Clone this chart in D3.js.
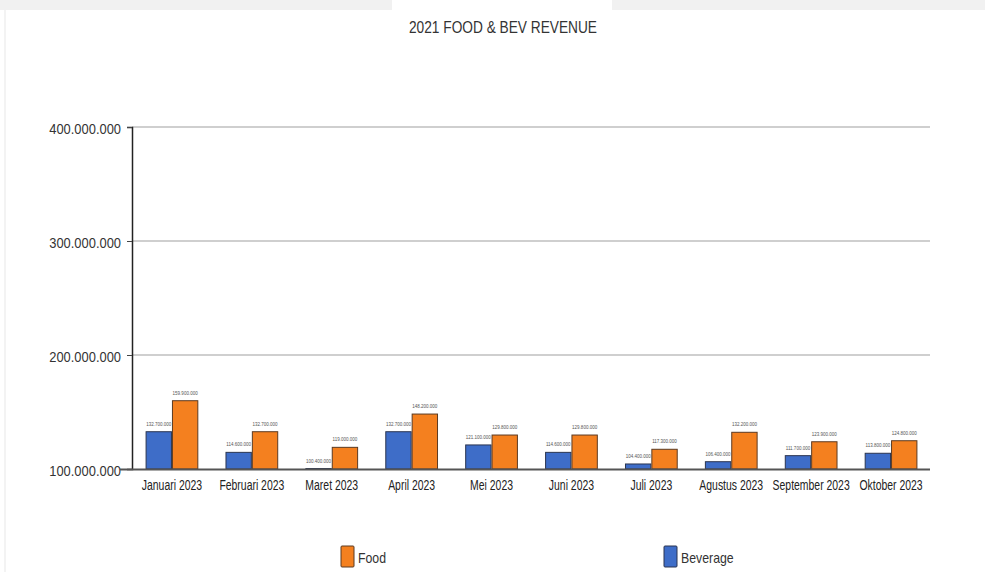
<!DOCTYPE html>
<html>
<head>
<meta charset="utf-8">
<script src="https://cdn.jsdelivr.net/npm/d3@7"></script>
<style>
  html, body { margin: 0; padding: 0; background: #fff; }
  svg { display: block; }
  text { font-family: "Liberation Sans", Arial, sans-serif; }
</style>
</head>
<body>
<svg id="chart" width="985" height="572"></svg>
<script>
const title = "2021 FOOD & BEV REVENUE";
const categories = ["Januari 2023", "Februari 2023", "Maret 2023", "April 2023", "Mei 2023",
  "Juni 2023", "Juli 2023", "Agustus 2023", "September 2023", "Oktober 2023"];
const beverage = [132700000, 114600000, 100400000, 132700000, 121100000,
  114600000, 104400000, 106400000, 111700000, 113800000];
const food = [159900000, 132700000, 119000000, 148200000, 129800000,
  129800000, 117300000, 132200000, 123900000, 124800000];
const seriesNames = ["Beverage", "Food"];
const legendOrder = ["Food", "Beverage"];
const yTicks = [100000000, 200000000, 300000000, 400000000];
const yDomain = [100000000, 400000000];

const colors = { Beverage: "#3e6dc8", Food: "#f4801f" };
const strokes = { Beverage: "#2b3550", Food: "#5b3a22" };

// horizontally condense text (reference uses a narrow face)
function condense(sel, factor) {
  sel.each(function () {
    const l = this.getComputedTextLength();
    d3.select(this).attr("textLength", l * factor).attr("lengthAdjust", "spacingAndGlyphs");
  });
}

const svg = d3.select("#chart");
const W = 985, H = 572;

// card background hints
svg.append("rect").attr("x", 0).attr("y", 0).attr("width", W).attr("height", 10).attr("fill", "#f1f1f1");
svg.append("rect").attr("x", 392).attr("y", 0).attr("width", 220).attr("height", 12).attr("fill", "#fff");
svg.append("rect").attr("x", 4).attr("y", 10).attr("width", 2).attr("height", H - 10).attr("fill", "#f3f3f3");

const plot = { left: 132, right: 931, top: 127, bottom: 469 };

const x0 = d3.scaleBand().domain(categories).range([plot.left, plot.right])
  .paddingInner(0.34).paddingOuter(0.17);
const x1 = d3.scaleBand().domain(seriesNames).range([0, x0.bandwidth()]);
const y = d3.scaleLinear().domain(yDomain).range([plot.bottom, plot.top]);

// title
svg.append("text").attr("x", 503).attr("y", 33).attr("text-anchor", "middle")
  .attr("font-size", 16.5).attr("fill", "#333").text(title)
  .call(condense, 0.83);

// grid lines
svg.append("g").selectAll("line").data(yTicks.filter(t => t !== yDomain[0])).join("line")
  .attr("x1", plot.left).attr("x2", plot.right - 1)
  .attr("y1", d => y(d)).attr("y2", d => y(d))
  .attr("stroke", "#cfcfcf").attr("stroke-width", 2);

// y axis
const yAxis = d3.axisLeft(y).tickValues(yTicks).tickSize(5).tickPadding(6)
  .tickFormat(d => d3.format(",")(d).replace(/,/g, "."));
const gy = svg.append("g").attr("transform", `translate(${plot.left},0)`).call(yAxis);
gy.select(".domain").attr("stroke", "#222").attr("stroke-width", 1.5);
gy.selectAll(".tick line").attr("stroke", "#444");
gy.selectAll(".tick text").attr("font-size", 15).attr("fill", "#333")
  .attr("dy", "0.4em")
  .call(condense, 0.86);

// bars
const groups = svg.append("g").selectAll("g").data(categories).join("g")
  .attr("transform", d => `translate(${x0(d)},0)`);
groups.selectAll("rect").data((d, i) => seriesNames.map(s => ({ s, v: s === "Food" ? food[i] : beverage[i] })))
  .join("rect")
  .attr("x", d => x1(d.s) + 0.5)
  .attr("width", x1.bandwidth() - 1)
  .attr("y", d => y(d.v))
  .attr("height", d => Math.max(0, y(yDomain[0]) - y(d.v)))
  .attr("fill", d => colors[d.s])
  .attr("stroke", d => strokes[d.s]).attr("stroke-width", 1);

// value labels
groups.selectAll("text").data((d, i) => seriesNames.map(s => ({ s, v: s === "Food" ? food[i] : beverage[i] })))
  .join("text")
  .attr("x", d => x1(d.s) + x1.bandwidth() / 2)
  .attr("y", d => y(d.v) - 6)
  .attr("text-anchor", "middle").attr("font-size", 4.5).attr("fill", "#555")
  .text(d => d3.format(",")(d.v).replace(/,/g, "."));

// x axis baseline
const xAxis = d3.axisBottom(x0).tickSize(0).tickPadding(11);
const gx = svg.append("g").attr("transform", `translate(0,${plot.bottom})`).call(xAxis);
gx.select(".domain").remove();
svg.append("line").attr("x1", 120).attr("x2", plot.right - 1)
  .attr("y1", plot.bottom + 0.5).attr("y2", plot.bottom + 0.5)
  .attr("stroke", "#555").attr("stroke-width", 2);
gx.selectAll(".tick text").attr("font-size", 14.5).attr("fill", "#222")
  .attr("transform", "scale(0.72,1)");

// legend
const legendX = { Food: 341, Beverage: 664 };
const leg = svg.append("g").selectAll("g").data(legendOrder).join("g")
  .attr("transform", d => `translate(${legendX[d]},546)`);
leg.append("rect").attr("width", 13).attr("height", 21).attr("rx", 1)
  .attr("fill", d => colors[d]).attr("stroke", d => strokes[d]).attr("stroke-width", 1);
leg.append("text").attr("x", 17).attr("y", 17).attr("font-size", 15).attr("fill", "#333").text(d => d)
  .call(condense, 0.82);
</script>
</body>
</html>
